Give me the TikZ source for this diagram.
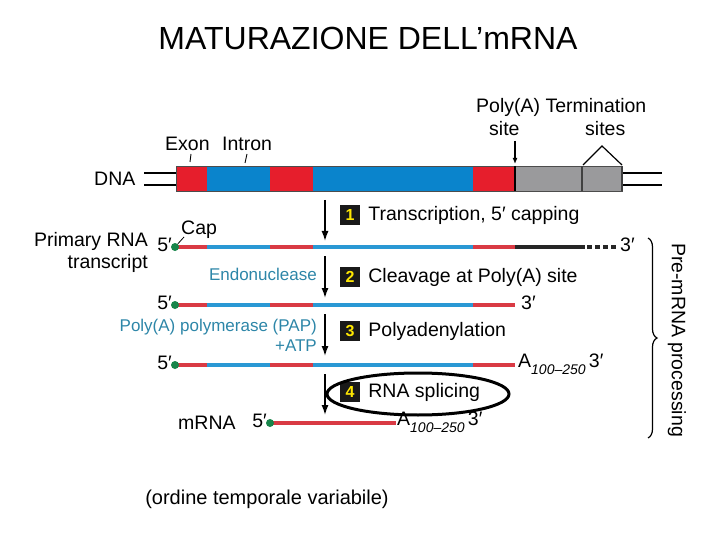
\documentclass[tikz,border=0pt]{standalone}
\usepackage{fontspec}
\setmainfont{Liberation Sans}
\usepackage{xcolor}
\usetikzlibrary{arrows.meta,positioning,decorations.pathreplacing,calc}
\definecolor{dnared}{HTML}{E61E2C}
\definecolor{dnablue}{HTML}{0A84CC}
\definecolor{dnagray}{HTML}{9A9A9C}
\definecolor{rnared}{HTML}{D93A44}
\definecolor{rnablue}{HTML}{2A98D4}
\definecolor{captgreen}{HTML}{17854A}
\definecolor{enzteal}{HTML}{2D86A8}

\begin{document}
\begin{tikzpicture}[
  x=1pt, y=-1pt,
  font=\fontsize{19.5}{21}\selectfont,
  txt/.style={inner sep=0pt, anchor=west},
  numbox/.style={fill=black!90, text=yellow!90!orange, font=\fontsize{16}{16}\selectfont\bfseries, minimum size=20pt, inner sep=0pt},
  enzyme/.style={inner sep=0pt, anchor=east, text=enzteal, font=\fontsize{17}{19}\selectfont},
  rnaseg/.style={line width=3.2pt},
  capdot/.style={circle, fill=captgreen, minimum size=8pt, inner sep=0pt},
  steparrow/.style={-{Latex[length=10pt,width=7pt]}, line width=1.4pt}
]
  \useasboundingbox (0,0) rectangle (720,540);

  % title
  \node[font=\fontsize{32}{36}\selectfont] (title) at (368,38) {MATURAZIONE DELL’mRNA};

  % DNA
  \node[txt] (dna) at (94,179) {DNA};
  \draw[line width=2.4pt] (144,173) -- (176,173) (144,185) -- (176,185);
  \draw[line width=2.4pt] (622,173) -- (662,173) (622,185) -- (662,185);
  \fill[dnared] (176,166) rectangle (207,191);
  \fill[dnablue] (207,166) rectangle (270,191);
  \fill[dnared] (270,166) rectangle (313,191);
  \fill[dnablue] (313,166) rectangle (473,191);
  \fill[dnared] (473,166) rectangle (515,191);
  \fill[dnagray] (515,166) rectangle (622,191);
  \draw[black!70, line width=0.5pt] (176,166) rectangle (622,191);
  \draw[line width=2.5pt] (515,166) -- (515,191);
  \draw[line width=2pt, black!75] (582,166) -- (582,191) (622,166) -- (622,191);

  \node[txt] (exon) at (165,144) {Exon};
  \node[txt] (intron) at (222,144) {Intron};
  \draw[line width=0.9pt] (191,154) -- (190,162);
  \draw[line width=0.9pt] (247,154) -- (245,163);
  \node[txt] (polya) at (476,107) {Poly(A) Termination};
  \node[txt] (site) at (489,129) {site};
  \node[txt] (sites) at (585,129) {sites};
  \coordinate (pas) at (515,164);
  \draw[-{Latex[length=6pt,width=5pt]}, line width=1.2pt] (515,141) -- (pas);
  \draw[line width=1.2pt] (583,165) -- (602,146) -- (622,165);

  % step 1
  \coordinate (a1s) at (325,200);
  \coordinate (a1e) at (325,241);
  \draw[steparrow] (a1s) -- (a1e);
  \node[numbox] (n1) at (350,215) {1};
  \node[txt, right=8pt of n1] (t1) {Transcription, 5′ capping};

  % primary transcript
  \node[txt, align=right, anchor=east, font=\fontsize{19.5}{22}\selectfont] (prim) at (148,252) {Primary RNA\\transcript};
  \draw[rnaseg, rnared] (176,247) -- (207,247);
  \draw[rnaseg, rnablue] (207,247) -- (270,247);
  \draw[rnaseg, rnared] (270,247) -- (313,247);
  \draw[rnaseg, rnablue] (313,247) -- (473,247);
  \draw[rnaseg, rnared] (473,247) -- (515,247);
  \draw[rnaseg, black!85] (515,247) -- (585,247);
  \draw[rnaseg, black!85, dash pattern=on 5pt off 3pt] (587,247) -- (616,247);
  \node[capdot] (cap1) at (175,247) {};
  \node[txt, anchor=east] (p5a) at (172,245) {5′};
  \node[txt] (p3a) at (620,245) {3′};
  \node[txt] (cap) at (181,230) {Cap};
  \draw[line width=0.8pt] (cap1) -- (184,237);

  % step 2
  \coordinate (a2s) at (325,256);
  \coordinate (a2e) at (325,298);
  \draw[steparrow] (a2s) -- (a2e);
  \node[numbox] (n2) at (350,277) {2};
  \node[txt, right=8pt of n2] (t2) {Cleavage at Poly(A) site};
  \node[enzyme] (endo) at (317,274) {Endonuclease};

  % cleaved RNA
  \draw[rnaseg, rnared] (176,305) -- (207,305);
  \draw[rnaseg, rnablue] (207,305) -- (270,305);
  \draw[rnaseg, rnared] (270,305) -- (313,305);
  \draw[rnaseg, rnablue] (313,305) -- (473,305);
  \draw[rnaseg, rnared] (473,305) -- (515,305);
  \node[capdot] (cap2) at (175,305) {};
  \node[txt, anchor=east] (p5b) at (172,303) {5′};
  \node[txt] (p3b) at (521,303) {3′};

  % step 3
  \coordinate (a3s) at (325,314);
  \coordinate (a3e) at (325,356);
  \draw[steparrow] (a3s) -- (a3e);
  \node[numbox] (n3) at (350,331) {3};
  \node[txt, right=8pt of n3] (t3) {Polyadenylation};
  \node[enzyme] (pap) at (317,327) {Poly(A) polymerase (PAP)};
  \node[enzyme] (atp) at (317,346) {+ATP};

  % polyadenylated RNA
  \draw[rnaseg, rnared] (176,365) -- (207,365);
  \draw[rnaseg, rnablue] (207,365) -- (270,365);
  \draw[rnaseg, rnared] (270,365) -- (313,365);
  \draw[rnaseg, rnablue] (313,365) -- (473,365);
  \draw[rnaseg, rnared] (473,365) -- (515,365);
  \node[capdot] (cap3) at (175,365) {};
  \node[txt, anchor=east] (p5c) at (172,363) {5′};
  \node[txt] (tail3) at (518,364) {A\raisebox{-7pt}{\fontsize{14}{14}\selectfont\itshape 100–250}\,3′};

  % step 4
  \coordinate (a4s) at (325,374);
  \coordinate (a4e) at (325,415);
  \draw[steparrow] (a4s) -- (a4e);
  \node[numbox] (n4) at (350,392) {4};
  \node[txt, right=8pt of n4] (t4) {RNA splicing};
  \draw[line width=3pt] (418,394) ellipse (91 and 21);

  % mRNA
  \draw[rnaseg, rnared] (270,423) -- (396,423);
  \node[capdot] (cap4) at (270,423) {};
  \node[txt, anchor=east] (p5d) at (267,421) {5′};
  \node[txt] (mrna) at (178,423) {mRNA};
  \node[txt] (tail4) at (397,422) {A\raisebox{-7pt}{\fontsize{14}{14}\selectfont\itshape 100–250}\,3′};

  % brace
  \coordinate (bt) at (648,238);
  \coordinate (bb) at (648,438);
  \draw[decorate, decoration={brace, amplitude=9pt}, line width=1.2pt] (bt) -- (bb);
  \node[rotate=-90, inner sep=0pt] (prep) at (677,340) {Pre-mRNA processing};

  % note
  \node[font=\fontsize{20}{24}\selectfont] (note) at (267,499) {(ordine temporale variabile)};
\end{tikzpicture}
\end{document}
